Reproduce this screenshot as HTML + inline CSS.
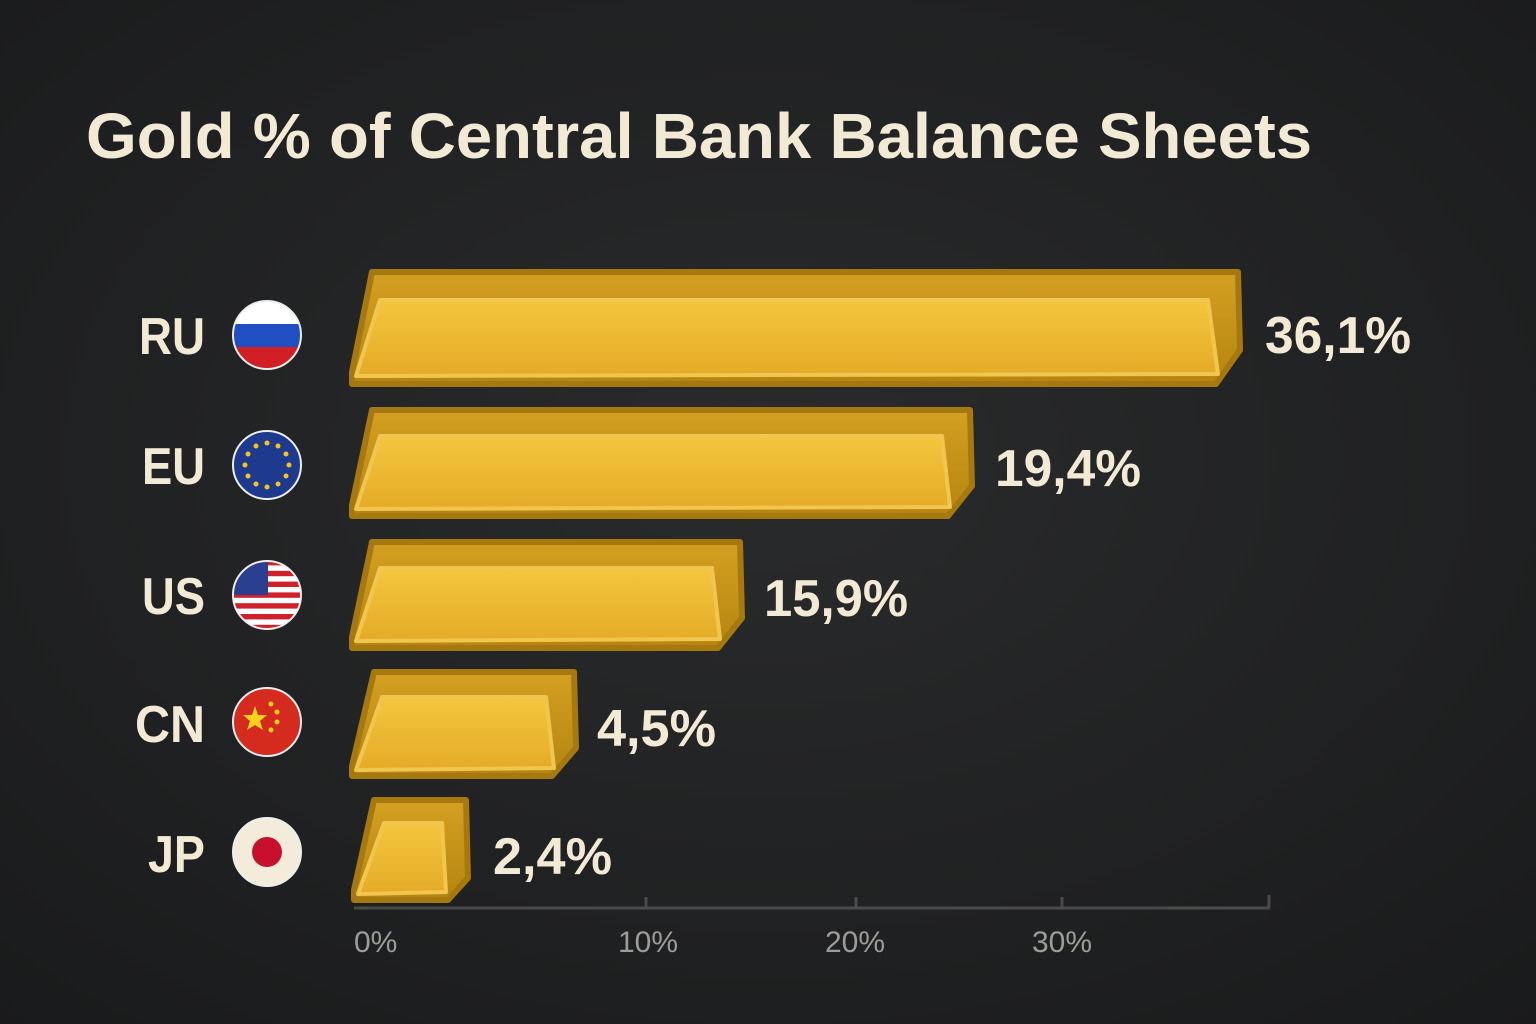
<!DOCTYPE html>
<html><head><meta charset="utf-8"><style>
html,body{margin:0;padding:0;background:#1e1f20;}
svg{display:block}
</style></head><body>
<svg width="1536" height="1024" viewBox="0 0 1536 1024" xmlns="http://www.w3.org/2000/svg">
<defs>
<radialGradient id="bg" cx="0.5" cy="0.45" r="0.8"><stop offset="0" stop-color="#2a2b2c"/><stop offset="1" stop-color="#18191a"/></radialGradient>
<linearGradient id="front" x1="0" y1="0" x2="0" y2="1"><stop offset="0" stop-color="#f4c63e"/><stop offset="1" stop-color="#e4ab27"/></linearGradient>
<linearGradient id="top" x1="0" y1="0" x2="0" y2="1"><stop offset="0" stop-color="#d4a022"/><stop offset="1" stop-color="#b5850f"/></linearGradient>
<clipPath id="c"><circle cx="0" cy="0" r="34"/></clipPath>
</defs>
<rect width="1536" height="1024" fill="url(#bg)"/>
<text x="86" y="158" font-family="Liberation Sans, sans-serif" font-size="64" font-weight="bold" fill="#f3ead6" textLength="1226" lengthAdjust="spacingAndGlyphs">Gold % of Central Bank Balance Sheets</text>

<g font-family="Liberation Sans, sans-serif" font-size="52" font-weight="bold" fill="#f3ead6">
<text x="205" y="354" text-anchor="end" textLength="66" lengthAdjust="spacingAndGlyphs">RU</text>
<text x="205" y="484" text-anchor="end" textLength="63" lengthAdjust="spacingAndGlyphs">EU</text>
<text x="205" y="614" text-anchor="end" textLength="63" lengthAdjust="spacingAndGlyphs">US</text>
<text x="205" y="742" text-anchor="end" textLength="70" lengthAdjust="spacingAndGlyphs">CN</text>
<text x="205" y="872" text-anchor="end" textLength="57" lengthAdjust="spacingAndGlyphs">JP</text>
<text x="1265" y="353" textLength="146" lengthAdjust="spacingAndGlyphs">36,1%</text>
<text x="995" y="486" textLength="146" lengthAdjust="spacingAndGlyphs">19,4%</text>
<text x="764" y="616" textLength="144" lengthAdjust="spacingAndGlyphs">15,9%</text>
<text x="597" y="746" textLength="119" lengthAdjust="spacingAndGlyphs">4,5%</text>
<text x="493" y="874" textLength="119" lengthAdjust="spacingAndGlyphs">2,4%</text>
</g>

<!-- flags -->
<g transform="translate(267,335)"><g clip-path="url(#c)"><rect x="-35" y="-35" width="70" height="24" fill="#fff"/><rect x="-35" y="-11" width="70" height="23" fill="#1f4fc2"/><rect x="-35" y="12" width="70" height="24" fill="#d21f26"/></g><circle r="34" fill="none" stroke="#eee" stroke-width="2"/></g>
<g transform="translate(267,465)"><circle r="34" fill="#1d3a8f" stroke="#eee" stroke-width="2"/>
<g fill="#f5c518"><circle cx="0" cy="-22" r="2.5"/><circle cx="11" cy="-19" r="2.5"/><circle cx="19" cy="-11" r="2.5"/><circle cx="22" cy="0" r="2.5"/><circle cx="19" cy="11" r="2.5"/><circle cx="11" cy="19" r="2.5"/><circle cx="0" cy="22" r="2.5"/><circle cx="-11" cy="19" r="2.5"/><circle cx="-19" cy="11" r="2.5"/><circle cx="-22" cy="0" r="2.5"/><circle cx="-19" cy="-11" r="2.5"/><circle cx="-11" cy="-19" r="2.5"/></g></g>
<g transform="translate(267,595)"><g clip-path="url(#c)"><rect x="-35" y="-35" width="70" height="70" fill="#fff"/>
<g fill="#d0202a"><rect x="-35" y="-35" width="70" height="5.4"/><rect x="-35" y="-24.2" width="70" height="5.4"/><rect x="-35" y="-13.4" width="70" height="5.4"/><rect x="-35" y="-2.6" width="70" height="5.4"/><rect x="-35" y="8.2" width="70" height="5.4"/><rect x="-35" y="19" width="70" height="5.4"/><rect x="-35" y="29.8" width="70" height="5.4"/></g>
<rect x="-35" y="-35" width="36" height="35" fill="#2a3f8f"/></g><circle r="34" fill="none" stroke="#eee" stroke-width="2"/></g>
<g transform="translate(267,722)"><circle r="34" fill="#d52a1e" stroke="#eee" stroke-width="2"/>
<polygon points="-12,-16 -9,-7 0,-7 -7,-1 -4,8 -12,3 -20,8 -17,-1 -24,-7 -15,-7" fill="#f7d21b"/>
<g fill="#f7d21b"><circle cx="4" cy="-18" r="2.5"/><circle cx="10" cy="-10" r="2.5"/><circle cx="10" cy="0" r="2.5"/><circle cx="4" cy="8" r="2.5"/></g></g>
<g transform="translate(267,852)"><circle r="34" fill="#f3ecdb" stroke="#eee" stroke-width="2"/><circle r="15" fill="#c8102e"/></g>

<!-- bars -->
<g stroke-linejoin="round">
<path d="M372 272 L1238 272 L1240 350 L1216 384 L352 384 L352 372 Z" fill="url(#top)" stroke="#a57810" stroke-width="6"/>
<path d="M380 300 L1208 300 L1218 374 L356 376 Z" fill="url(#front)" stroke="#f0c650" stroke-width="4"/>
<path d="M372 410 L970 410 L972 486 L948 516 L352 516 L352 505 Z" fill="url(#top)" stroke="#a57810" stroke-width="6"/>
<path d="M380 436 L942 436 L950 507 L356 509 Z" fill="url(#front)" stroke="#f0c650" stroke-width="4"/>
<path d="M372 542 L740 542 L742 618 L718 648 L352 648 L352 637 Z" fill="url(#top)" stroke="#a57810" stroke-width="6"/>
<path d="M380 568 L712 568 L720 639 L356 641 Z" fill="url(#front)" stroke="#f0c650" stroke-width="4"/>
<path d="M374 672 L574 672 L576 748 L552 776 L352 776 L352 766 Z" fill="url(#top)" stroke="#a57810" stroke-width="6"/>
<path d="M382 697 L546 697 L554 768 L356 770 Z" fill="url(#front)" stroke="#f0c650" stroke-width="4"/>
<path d="M374 800 L466 800 L468 878 L448 900 L354 900 L354 890 Z" fill="url(#top)" stroke="#a57810" stroke-width="6"/>
<path d="M384 823 L442 823 L446 892 L358 894 Z" fill="url(#front)" stroke="#f0c650" stroke-width="4"/>
</g>

<!-- axis -->
<g stroke="#4a4a4a" stroke-width="3" fill="none">
<line x1="354" y1="908" x2="1270" y2="908"/>
<line x1="646" y1="897" x2="646" y2="908"/>
<line x1="856" y1="897" x2="856" y2="908"/>
<line x1="1062" y1="897" x2="1062" y2="908"/>
<line x1="1269" y1="895" x2="1269" y2="908"/>
</g>
<g font-family="Liberation Sans, sans-serif" font-size="30" fill="#9c9c98">
<text x="354" y="952">0%</text>
<text x="618" y="952">10%</text>
<text x="825" y="952">20%</text>
<text x="1032" y="952">30%</text>
</g>
</svg>
</body></html>
